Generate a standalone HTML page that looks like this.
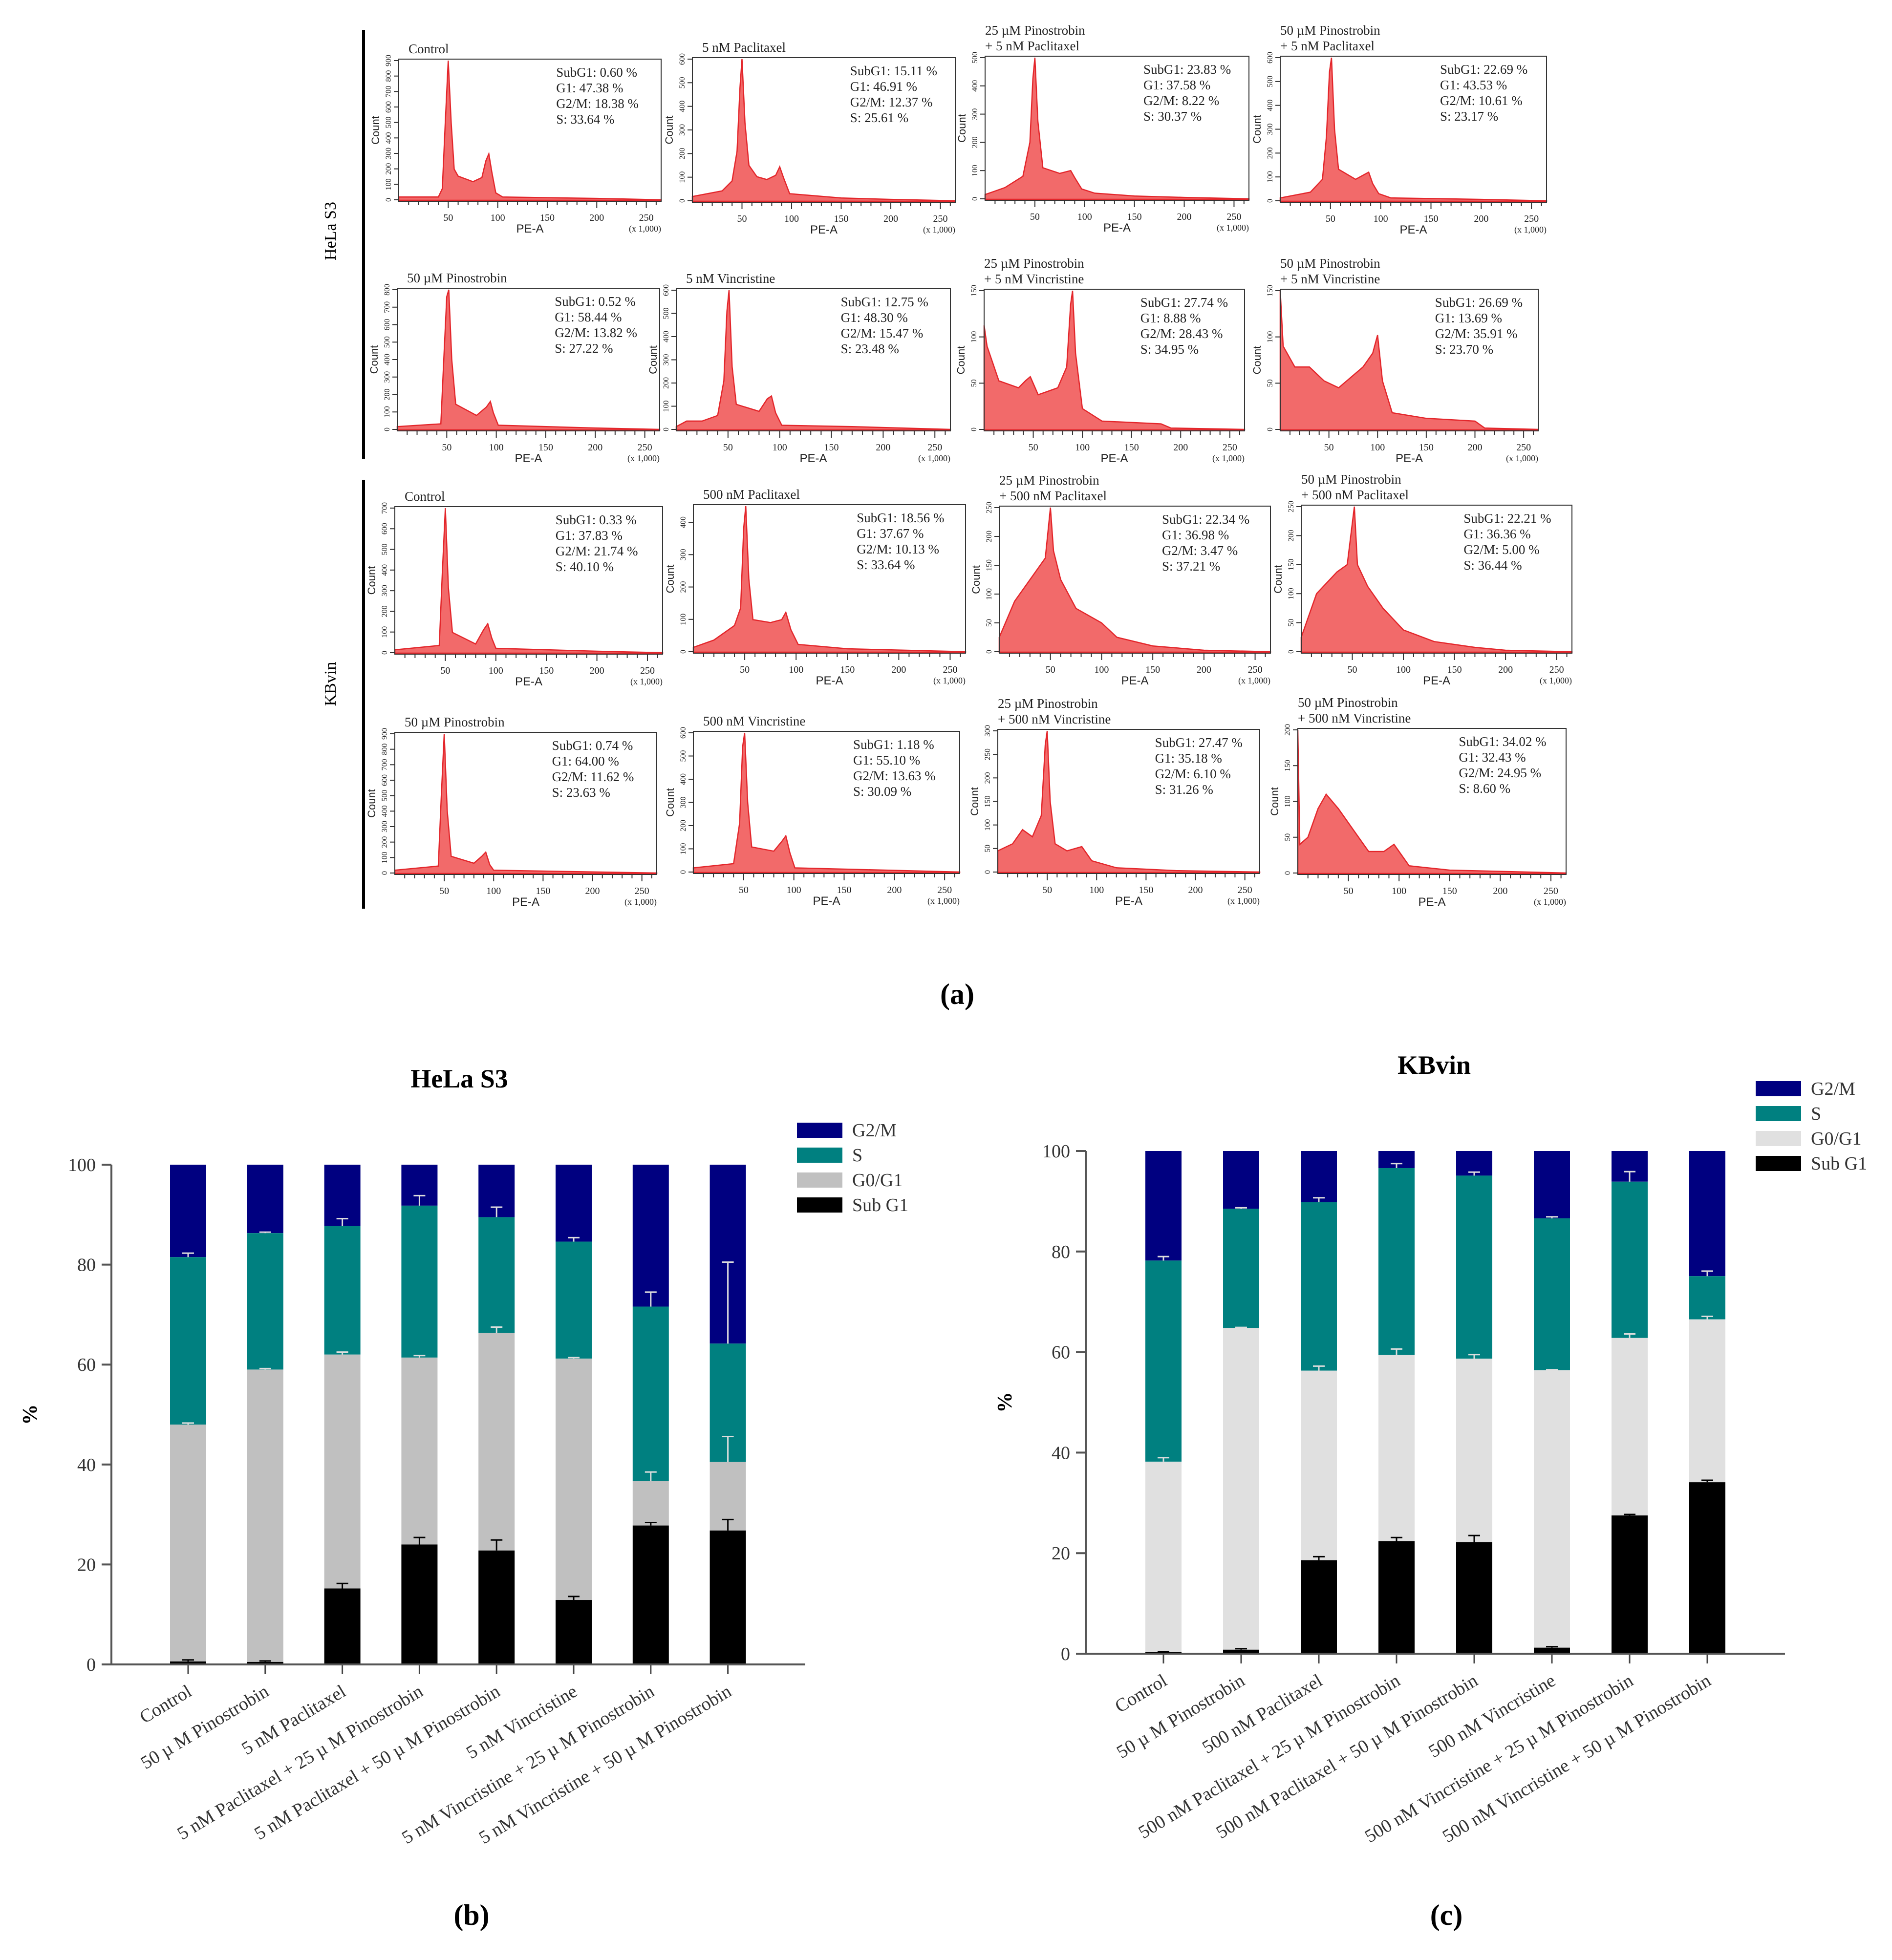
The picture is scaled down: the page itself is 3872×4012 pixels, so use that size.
<!DOCTYPE html>
<html><head><meta charset="utf-8"><style>
html,body{margin:0;padding:0;background:#fff;}
svg{display:block;font-family:"Liberation Serif",serif;}
</style></head><body>
<svg id="fig" width="3872" height="4012" viewBox="0 0 3872 4012" xmlns="http://www.w3.org/2000/svg">
<rect width="3872" height="4012" fill="#fff"/>
</svg>
<script>
// ---------- Bar chart data ----------
const helaCats = ["Control","50 µ  M Pinostrobin","5 nM Paclitaxel","5 nM Paclitaxel + 25 µ  M Pinostrobin","5 nM Paclitaxel + 50 µ  M Pinostrobin","5 nM Vincristine","5 nM Vincristine + 25 µ  M Pinostrobin","5 nM Vincristine + 50 µ  M Pinostrobin"];
const helaSub = [0.6,0.5,15.2,24.0,22.8,12.9,27.8,26.8];
const helaSubErr = [0.3,0.2,1.0,1.4,2.1,0.7,0.6,2.2];
const helaG1Top = [48.0,59.0,62.0,61.4,66.3,61.2,36.7,40.5];
const helaG1Err = [0.3,0.2,0.5,0.4,1.2,0.2,1.8,5.1];
const helaSTop = [81.5,86.3,87.7,91.8,89.5,84.6,71.6,64.2];
const helaSErr = [0.8,0.2,1.5,2.0,2.0,0.8,2.9,16.3];

const kbCats = ["Control","50 µ  M Pinostrobin","500 nM Paclitaxel","500 nM Paclitaxel + 25 µ  M Pinostrobin","500 nM Paclitaxel + 50 µ  M Pinostrobin","500 nM Vincristine","500 nM Vincristine + 25 µ  M Pinostrobin","500 nM Vincristine + 50 µ  M Pinostrobin"];
const kbSub = [0.3,0.8,18.6,22.4,22.2,1.2,27.5,34.1];
const kbSubErr = [0.1,0.2,0.7,0.7,1.3,0.2,0.2,0.4];
const kbG1Top = [38.2,64.8,56.3,59.4,58.7,56.4,62.8,66.5];
const kbG1Err = [0.8,0.1,0.9,1.2,0.8,0.1,0.8,0.6];
const kbSTop = [78.2,88.5,89.8,96.6,95.1,86.6,93.9,75.1];
const kbSErr = [0.8,0.2,0.9,0.9,0.7,0.3,2.0,1.0];
const yTicks = [0,20,40,60,80,100];
const legendLabels = ["G2/M","S","G0/G1","Sub G1"];

// ---------- Histogram data: [PE-A (x1000), relative count] ----------
const h1 = [[0,0.02],[40,0.02],[44,0.08],[47,0.55],[50,1.0],[53,0.55],[56,0.22],[60,0.17],[75,0.13],[84,0.16],[88,0.28],[91,0.33],[94,0.2],[98,0.05],[105,0.02],[200,0.01],[265,0]];
const h2 = [[0,0.03],[30,0.07],[40,0.14],[45,0.35],[48,0.8],[50,1.0],[53,0.55],[57,0.25],[65,0.17],[75,0.15],[84,0.18],[88,0.24],[92,0.16],[98,0.05],[150,0.02],[200,0.01],[265,0]];
const h3 = [[0,0.03],[20,0.08],[38,0.16],[45,0.4],[48,0.85],[50,1.0],[53,0.55],[58,0.22],[75,0.18],[86,0.2],[90,0.15],[97,0.07],[110,0.04],[150,0.02],[200,0.01],[265,0]];
const h4 = [[0,0.02],[30,0.06],[42,0.15],[46,0.45],[49,0.9],[51,1.0],[54,0.5],[58,0.22],[75,0.15],[88,0.2],[92,0.12],[98,0.05],[110,0.02],[200,0.01],[265,0]];
const h5 = [[0,0.02],[44,0.04],[47,0.5],[50,0.95],[52,1.0],[55,0.5],[59,0.18],[80,0.1],[90,0.16],[94,0.2],[97,0.12],[102,0.03],[200,0.01],[265,0]];
const h6 = [[0,0.02],[10,0.06],[25,0.06],[40,0.1],[46,0.35],[49,0.85],[51,1.0],[54,0.45],[58,0.18],[80,0.13],[88,0.22],[92,0.24],[96,0.12],[102,0.03],[170,0.02],[265,0]];
const h7 = [[0,0.75],[3,0.6],[15,0.35],[35,0.3],[42,0.35],[47,0.38],[55,0.25],[75,0.3],[84,0.45],[88,0.9],[90,1.0],[93,0.55],[100,0.15],[120,0.06],[180,0.04],[190,0.01],[265,0]];
const h8 = [[0,1.0],[3,0.6],[15,0.45],[30,0.45],[45,0.35],[60,0.3],[85,0.45],[95,0.55],[100,0.68],[105,0.35],[115,0.12],[150,0.08],[200,0.06],[210,0.01],[265,0]];
const h9 = [[0,0.02],[44,0.05],[47,0.55],[50,1.0],[53,0.45],[57,0.14],[80,0.06],[88,0.16],[92,0.2],[96,0.1],[100,0.03],[200,0.01],[265,0]];
const h10 = [[0,0.03],[20,0.08],[40,0.18],[46,0.3],[49,0.85],[51,1.0],[54,0.5],[58,0.22],[75,0.2],[86,0.22],[90,0.27],[95,0.15],[102,0.05],[150,0.02],[265,0]];
const h11 = [[0,0.1],[15,0.35],[35,0.55],[45,0.65],[50,1.0],[53,0.7],[60,0.5],[75,0.3],[100,0.2],[115,0.1],[150,0.04],[200,0.01],[265,0]];
const h12 = [[0,0.1],[15,0.4],[35,0.55],[45,0.6],[52,1.0],[55,0.6],[65,0.45],[80,0.3],[100,0.15],[130,0.07],[170,0.03],[200,0.01],[265,0]];
const h13 = [[0,0.02],[44,0.05],[47,0.55],[50,1.0],[53,0.45],[57,0.12],[80,0.07],[88,0.12],[92,0.15],[96,0.06],[100,0.02],[265,0]];
const h14 = [[0,0.03],[40,0.06],[46,0.35],[49,0.9],[51,1.0],[54,0.5],[58,0.18],[80,0.15],[88,0.22],[92,0.26],[96,0.14],[101,0.03],[265,0]];
const h15 = [[0,0.15],[15,0.2],[25,0.3],[35,0.25],[44,0.4],[48,0.9],[50,1.0],[53,0.5],[58,0.2],[70,0.15],[85,0.18],[95,0.08],[120,0.03],[180,0.01],[265,0]];
const h16 = [[0,1.0],[2,0.2],[10,0.25],[20,0.45],[28,0.55],[40,0.45],[55,0.3],[70,0.15],[85,0.15],[95,0.2],[100,0.15],[110,0.05],[150,0.02],[265,0]];
const histTitles = [
 ["Control"],["5 nM Paclitaxel"],["25 µM Pinostrobin","+ 5 nM Paclitaxel"],["50 µM Pinostrobin","+ 5 nM Paclitaxel"],
 ["50 µM Pinostrobin"],["5 nM Vincristine"],["25 µM Pinostrobin","+ 5 nM Vincristine"],["50 µM Pinostrobin","+ 5 nM Vincristine"],
 ["Control"],["500 nM Paclitaxel"],["25 µM Pinostrobin","+ 500 nM Paclitaxel"],["50 µM Pinostrobin","+ 500 nM Paclitaxel"],
 ["50 µM Pinostrobin"],["500 nM Vincristine"],["25 µM Pinostrobin","+ 500 nM Vincristine"],["50 µM Pinostrobin","+ 500 nM Vincristine"]];
const histStats = [
 ["0.60","47.38","18.38","33.64"],["15.11","46.91","12.37","25.61"],["23.83","37.58","8.22","30.37"],["22.69","43.53","10.61","23.17"],
 ["0.52","58.44","13.82","27.22"],["12.75","48.30","15.47","23.48"],["27.74","8.88","28.43","34.95"],["26.69","13.69","35.91","23.70"],
 ["0.33","37.83","21.74","40.10"],["18.56","37.67","10.13","33.64"],["22.34","36.98","3.47","37.21"],["22.21","36.36","5.00","36.44"],
 ["0.74","64.00","11.62","23.63"],["1.18","55.10","13.63","30.09"],["27.47","35.18","6.10","31.26"],["34.02","32.43","24.95","8.60"]];
const histYMax = [900,600,500,600, 800,600,150,150, 700,450,250,250, 900,600,300,200];
const peTicks = [50,100,150,200,250];

const svg = document.getElementById('fig');
const NS = "http://www.w3.org/2000/svg";
function el(tag, attrs, parent){ const e=document.createElementNS(NS,tag); for(const k in attrs) e.setAttribute(k,attrs[k]); (parent||svg).appendChild(e); return e; }
function txt(s, attrs, parent){ const e=el('text',attrs,parent); e.textContent=s; return e; }

// ---------- Histogram panels ----------
const boxes = [
 [816,121,1353,412],[1417,118,1955,414],[2016,115,2556,410],[2620,115,3165,414],
 [813,590,1350,882],[1384,591,1945,882],[2014,592,2547,882],[2620,592,3148,882],
 [808,1037,1356,1339],[1419,1033,1976,1337],[2045,1036,2600,1337],[2663,1034,3217,1337],
 [808,1499,1344,1790],[1419,1497,1964,1788],[2042,1493,2578,1788],[2656,1491,3205,1790]];
const hists = [h1,h2,h3,h4,h5,h6,h7,h8,h9,h10,h11,h12,h13,h14,h15,h16];
hists.forEach((data,i)=>{
  const [x0,y0,x1,y1] = boxes[i];
  const g = el('g',{});
  
  
  const sx = v => x0 + v/265*(x1-x0);
  const sy = v => y1 - 3 - v*(y1-y0-6);
  let d = 'M'+sx(0)+','+(y1-2);
  data.forEach(p=>{ d += ' L'+sx(p[0]).toFixed(1)+','+sy(p[1]).toFixed(1); });
  d += ' L'+sx(265)+','+(y1-2)+' Z';
  const area = el('path',{d:d,fill:'#f26a6a',stroke:'#e3262b','stroke-width':2.5},g);
  
  
  el('rect',{x:x0,y:y0,width:x1-x0,height:y1-y0,fill:'none',stroke:'#333','stroke-width':2},g);
  for(let v=10; v<=260; v+=10){ el('line',{x1:sx(v),x2:sx(v),y1:y1,y2:y1+(v%50===0?14:8),stroke:'#333','stroke-width':2},g); }
  peTicks.forEach(v=>{ const t=txt(String(v),{x:sx(v),y:y1+40,'font-size':20,'text-anchor':'middle',fill:'#222'},g);   });
  const xl = txt('PE-A',{x:(x0+x1)/2,y:y1+64,'font-size':24,'text-anchor':'middle',fill:'#222','font-family':'Liberation Sans, sans-serif'},g);
   
  txt('(x 1,000)',{x:x1,y:y1+62,'font-size':18,'text-anchor':'end',fill:'#222'},g);
  const ym = histYMax[i]; const step = ym>=400?100:50;
  for(let v=0; v<=ym; v+=step){
    const yy = y1-3-(v/ym)*(y1-y0-6);
    el('line',{x1:x0-10,x2:x0,y1:yy,y2:yy,stroke:'#333','stroke-width':2},g);
    txt(String(v),{x:x0-16,y:yy,'font-size':16,'text-anchor':'middle',fill:'#222',transform:'rotate(-90 '+(x0-16)+' '+yy+')'},g);
  }
  txt('Count',{x:x0-40,y:(y0+y1)/2,'font-size':22,'text-anchor':'middle',fill:'#222','font-family':'Liberation Sans, sans-serif',transform:'rotate(-90 '+(x0-40)+' '+((y0+y1)/2)+')'},g);
  const tl = histTitles[i];
  tl.forEach((s,k)=>{ const t=txt(s,{x:x0+(tl.length>1?0:20),y:y0-12-(tl.length-1-k)*32,'font-size':27,fill:'#222'},g);   });
  const st = histStats[i]; const lbl=['SubG1: ','G1: ','G2/M: ','S: '];
  st.forEach((s,k)=>{ const t=txt(lbl[k]+s+' %',{x:x0+0.6*(x1-x0),y:y0+36+k*32,'font-size':27,fill:'#222'},g);   });
});
el('line',{x1:744,x2:744,y1:61,y2:939,stroke:'#000','stroke-width':6});
el('line',{x1:744,x2:744,y1:982,y2:1860,stroke:'#000','stroke-width':6});
const gl1=txt('HeLa S3',{x:687,y:473,'font-size':34,'text-anchor':'middle',transform:'rotate(-90 687 473)'});  
const gl2=txt('KBvin',{x:687,y:1400,'font-size':34,'text-anchor':'middle',transform:'rotate(-90 687 1400)'});  
const pa=txt('(a)',{x:1959,y:2055,'font-size':60,'text-anchor':'middle','font-weight':'bold'});  

// ---------- Stacked bar charts ----------
function stacked(cfg){
  const g = el('g',{});
  
  
  const {ax,ay0,ay100,xend,c0,sp,bw} = cfg;
  const y = v => ay0 - v/100*(ay0-ay100);
  const xc = i => c0 + i*sp;
  const cols = ['#000080','#008080',cfg.g1col,'#000000'];
  cfg.cats.forEach((c,i)=>{
    const segs = [[cfg.sTop[i],100,cols[0],'bar-g2m'],[cfg.g1Top[i],cfg.sTop[i],cols[1],'bar-s'],[cfg.sub[i],cfg.g1Top[i],cols[2],'bar-g0g1'],[0,cfg.sub[i],cols[3],'bar-subg1']];
    segs.forEach(s=>{
      const r = el('rect',{x:xc(i)-bw/2,y:y(s[1]),width:bw,height:y(s[0])-y(s[1]),fill:s[2]},g);
      
      
    });
    [[cfg.sub[i],cfg.subErr[i]],[cfg.g1Top[i],cfg.g1Err[i]],[cfg.sTop[i],cfg.sErr[i]]].forEach(e=>{
      const col = (e[0]===cfg.sub[i])?'#000':'#ddd';
      const l = el('path',{d:'M'+xc(i)+','+y(e[0])+' V'+y(e[0]+e[1])+' M'+(xc(i)-12)+','+y(e[0]+e[1])+' H'+(xc(i)+12),stroke:col,'stroke-width':3,fill:'none'},g);
      
      
    });
    el('line',{x1:xc(i),x2:xc(i),y1:ay0,y2:ay0+20,stroke:'#444','stroke-width':3},g);
    const t = txt(c,{x:xc(i)+10,y:ay0+62,'font-size':38,'text-anchor':'end',fill:'#333',transform:'rotate(-31 '+(xc(i)+10)+' '+(ay0+62)+')'},g);
    
    
  });
  el('line',{x1:ax,x2:ax,y1:ay100,y2:ay0,stroke:'#555','stroke-width':4},g);
  el('line',{x1:ax-20,x2:xend,y1:ay0,y2:ay0,stroke:'#555','stroke-width':4},g);
  yTicks.forEach(v=>{
    el('line',{x1:ax-20,x2:ax,y1:y(v),y2:y(v),stroke:'#555','stroke-width':4},g);
    const t=txt(String(v),{x:ax-32,y:y(v)+13,'font-size':38,'text-anchor':'end',fill:'#333'},g);
     
  });
  const yt = txt('%',{x:cfg.pctX,y:(ay0+ay100)/2,'font-size':42,'font-weight':'bold','text-anchor':'middle',transform:'rotate(-90 '+cfg.pctX+' '+((ay0+ay100)/2)+')'},g);
   
  const tt = txt(cfg.title,{x:cfg.titleX,y:cfg.titleY,'font-size':54,'font-weight':'bold','text-anchor':'middle'},g);
   
  legendLabels.forEach((s,k)=>{
    const ly = cfg.legY + k*cfg.legSp;
    const r = el('rect',{x:cfg.legX,y:ly-15,width:93,height:31,fill:cols[k]},g);
     
    const t = txt(s,{x:cfg.legX+113,y:ly+13,'font-size':38,fill:'#333'},g);
     
  });
  const pl = txt(cfg.panel,{x:cfg.titleX+25,y:3940,'font-size':60,'font-weight':'bold','text-anchor':'middle'},g);
   
}
stacked({name:'hela-chart',title:'HeLa S3',panel:'(b)',cats:helaCats,sub:helaSub,subErr:helaSubErr,g1Top:helaG1Top,g1Err:helaG1Err,sTop:helaSTop,sErr:helaSErr,
  ax:228,ay0:3407,ay100:2384,xend:1648,c0:385,sp:157.8,bw:74,g1col:'#c0c0c0',pctX:75,titleX:940,titleY:2226,legX:1631,legY:2313,legSp:51});
stacked({name:'kbvin-chart',title:'KBvin',panel:'(c)',cats:kbCats,sub:kbSub,subErr:kbSubErr,g1Top:kbG1Top,g1Err:kbG1Err,sTop:kbSTop,sErr:kbSErr,
  ax:2222,ay0:3385,ay100:2356,xend:3653,c0:2381,sp:159,bw:74,g1col:'#e0e0e0',pctX:2070,titleX:2935,titleY:2198,legX:3593,legY:2228,legSp:51});
</script>
</body></html>
